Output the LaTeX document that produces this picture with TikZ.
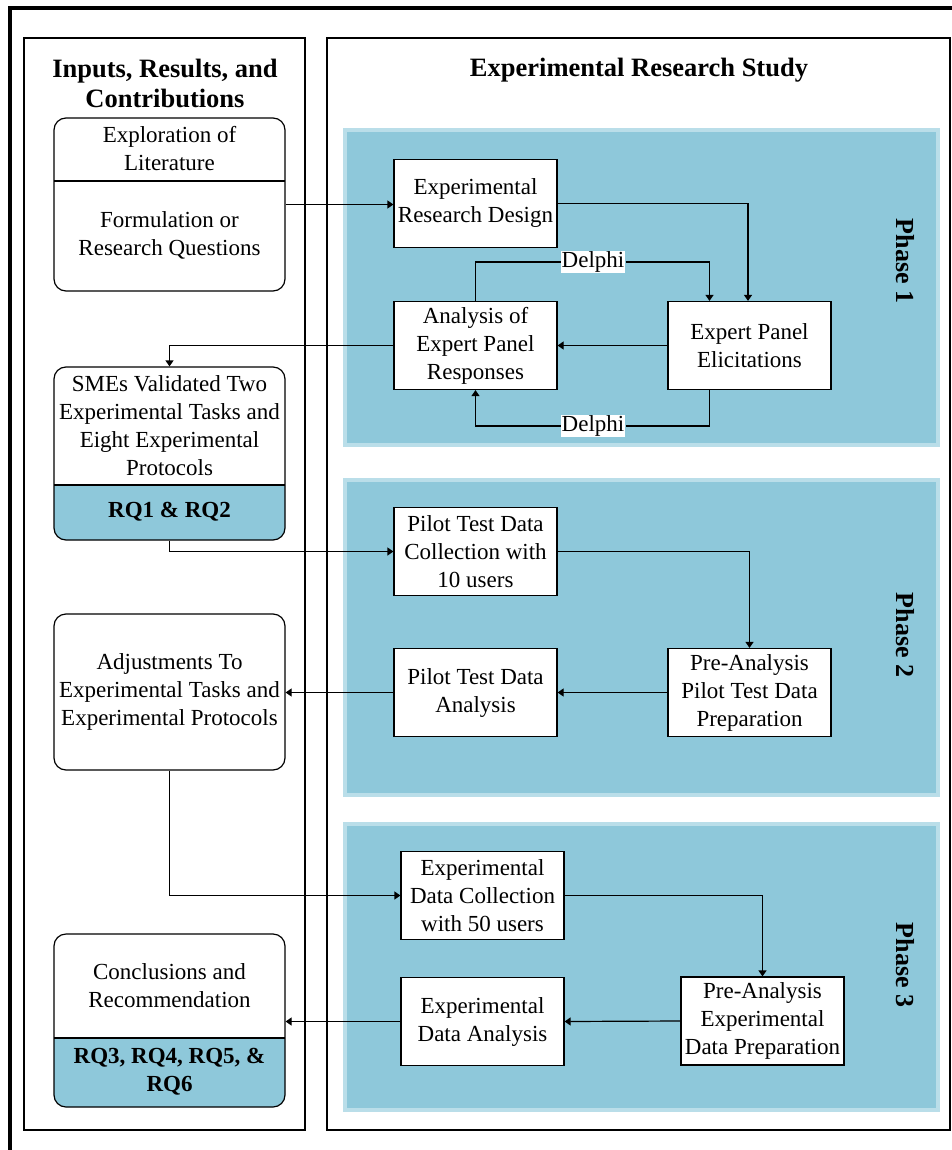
\documentclass[tikz,border=0pt]{standalone}
\usepackage{fontspec}
\setmainfont{Liberation Serif}
\usetikzlibrary{positioning}
\usetikzlibrary{arrows.meta, calc}
\definecolor{phasefill}{RGB}{142,200,218}
\definecolor{phaseedge}{RGB}{186,222,233}

\begin{document}
\begin{tikzpicture}
  [
    x=1pt, y=-1pt,
    >={Triangle[length=6pt,width=8pt]},
    every node/.style={font=\fontsize{23}{28}\selectfont, align=center},
    stepbox/.style = {draw, rectangle, fill=white, line width=1.2pt, minimum width=163pt, minimum height=88pt, inner sep=1pt},
    sidebox/.style = {draw, rectangle, rounded corners=12pt, line width=1.2pt, minimum width=231pt, inner sep=0pt},
    delphi/.style = {fill=white, inner sep=1pt},
    rq/.style = {font=\fontsize{23}{28}\selectfont\bfseries},
    title/.style = {font=\fontsize{26.5}{30}\selectfont\bfseries},
    phaselabel/.style = {font=\fontsize{26}{30}\selectfont\bfseries, rotate=-90},
    band/.style = {fill=phasefill, draw=phaseedge, line width=4pt},
    link/.style = {->, line width=1.2pt},
  ]

  \useasboundingbox (0,0) rectangle (952,1150);

  % frame and the two columns
  \def\lx{54}
  \def\rx{285}
  \draw[line width=3.5pt] (10,1150) -- (10,8) -- (952,8);
  \draw[line width=2pt] (24,38) rectangle (305,1130);
  \draw[line width=2pt] (327,38) rectangle (950,1130);

  \node[title] (lefttitle) at (165,83) {Inputs, Results, and\\Contributions};
  \node[title] (righttitle) at (639,70) {Experimental Research Study};

  % phase bands
  \draw[band] (345,130) rectangle (938,445);
  \draw[band] (345,480) rectangle (938,795);
  \draw[band] (345,824) rectangle (938,1110);

  \node[phaselabel] (ph1) at (905,261) {Phase 1};
  \node[phaselabel] (ph2) at (905,635) {Phase 2};
  \node[phaselabel] (ph3) at (905,965) {Phase 3};

  % left column
  \begin{scope}
    \clip (\lx,485) rectangle (\rx,541);
    \fill[phasefill, rounded corners=12pt] (\lx,367) rectangle (\rx,540);
  \end{scope}
  \begin{scope}
    \clip (\lx,1038) rectangle (\rx,1108);
    \fill[phasefill, rounded corners=12pt] (\lx,934) rectangle (\rx,1107);
  \end{scope}

  \node[sidebox, minimum height=173pt] (lit) at (169.5,204.5) {};
  \node[sidebox, minimum height=173pt] (val) at (169.5,453.5) {};
  \node[sidebox, minimum height=156pt] (adj) at (169.5,692) {};
  \node[sidebox, minimum height=173pt] (con) at (169.5,1020.5) {};

  \draw[line width=1.2pt] (\lx,181) -- (\rx,181);
  \draw[line width=1.2pt] (\lx,485) -- (\rx,485);
  \draw[line width=1.2pt] (\lx,1038) -- (\rx,1038);

  \node (lit1) at (169.5,149) {Exploration of\\Literature};
  \node (lit2) at (169.5,235) {Formulation or\\Research Questions};
  \node (val1) at (169.5,426) {SMEs Validated Two\\Experimental Tasks and\\Eight Experimental\\Protocols};
  \node[rq] (val2) at (169.5,512) {RQ1 \& RQ2};
  \node (adj1) at (169.5,692) {Adjustments To\\Experimental Tasks and\\Experimental Protocols};
  \node (con1) at (169.5,986) {Conclusions and\\Recommendation};
  \node[rq] (con2) at (169.5,1072) {RQ3, RQ4, RQ5, \&\\RQ6};

  % right column
  \node[stepbox] (erd) at (475.5,203.5) {Experimental\\Research Design};
  \node[stepbox] (apr) at (475.5,345.5) {Analysis of\\Expert Panel\\Responses};
  \node[stepbox] (epe) at (749.5,345.5) {Expert Panel\\Elicitations};
  \node[stepbox] (pil) at (475.5,551.5) {Pilot Test Data\\Collection with\\10 users};
  \node[stepbox] (pda) at (475.5,692.5) {Pilot Test Data\\Analysis};
  \node[stepbox] (ppp) at (749.5,692.5) {Pre-Analysis\\Pilot Test Data\\Preparation};
  \node[stepbox] (edc) at (482.5,895.5) {Experimental\\Data Collection\\with 50 users};
  \node[stepbox] (eda) at (482.5,1021.5) {Experimental\\Data Analysis};
  \node[stepbox] (pep) at (762.5,1021) {Pre-Analysis\\Experimental\\Data Preparation};

  \node[delphi] (dtop) at (593,262) {Delphi};
  \node[delphi] (dbot) at (593,426) {Delphi};

  % connectors
  \draw[link] (lit.east) -- (lit.east -| erd.west);
  \draw[link] (erd.east) -| ($(epe.north)+(-1.5,0)$);
  \draw[line width=1.2pt] (apr.north) |- (dtop.west);
  \draw[link] (dtop.east) -| ($(epe.north)+(-40,0)$);
  \draw[line width=1.2pt] ($(epe.south)+(-40,0)$) |- (dbot.east);
  \draw[link] (dbot.west) -| (apr.south);
  \draw[link] (epe.west) -- (apr.east);
  \draw[link] (apr.west) -| (val.north);
  \draw[link] (val.south) |- (pil.west);
  \draw[link] (pil.east) -| (ppp.north);
  \draw[link] (ppp.west) -- (pda.east);
  \draw[link] (pda.west) -- (pda.west -| adj.east);
  \draw[link] (adj.south) |- (edc.west);
  \draw[link] (edc.east) -| (pep.north);
  \draw[link] (pep.west) -- (eda.east);
  \draw[link] (eda.west) -- (eda.west -| con.east);

\end{tikzpicture}
\end{document}
